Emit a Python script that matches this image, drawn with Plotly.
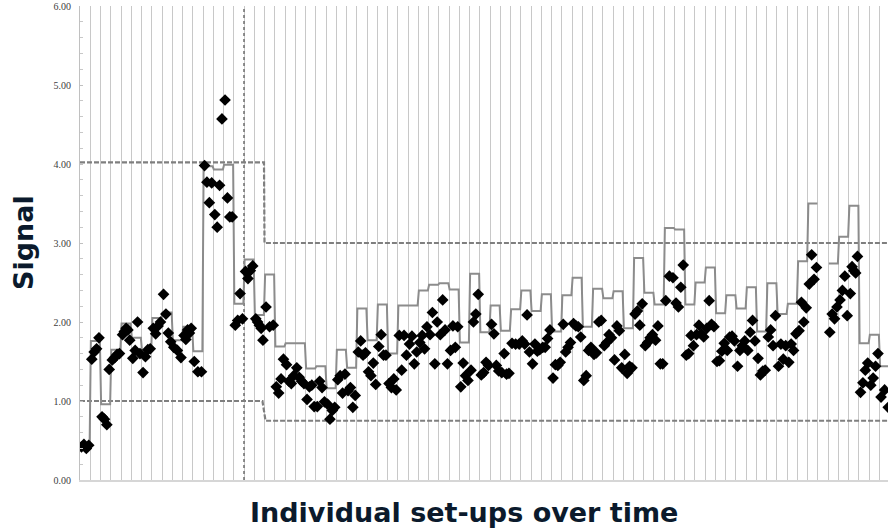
import plotly.graph_objects as go

# ---- data ----
# control level (step line) per set-up; None = no level drawn
setup_level = [
    0.45, 1.76, 0.96, 1.65, 1.98, 1.80, 1.62, 2.05, 2.12, 1.77,
    1.94, 1.63, 3.97, 3.93, 3.99, 2.23, 2.79, 2.09, 2.60, 1.69,
    1.73, 1.73, 1.41, 1.44, 1.16, 1.65, 1.42, 2.17, 1.77, 2.22,
    1.60, 2.21, 2.21, 2.40, 2.47, 2.49, 2.41, 1.74, 2.61, 1.87,
    2.21, 1.89, 2.16, 2.40, 2.14, 2.35, 1.88, 2.34, 2.56, 1.94,
    2.42, 2.30, 2.39, 1.92, 2.81, 2.37, 2.22, 3.19, 3.17, 2.22,
    2.50, 2.69, 2.11, 2.34, 2.17, 2.44, 1.88, 2.49, 2.10, 2.23,
    2.77, 3.50, None, 2.74, 3.08, 3.47, 1.73, 1.84, 1.44,
]

# number of measured signals in each set-up
points_per_setup = [
    4, 4, 4, 4, 5, 4, 4, 4, 4, 3,
    5, 3, 4, 4, 4, 4, 4, 5, 3, 4,
    4, 4, 4, 4, 4, 4, 4, 4, 4, 4,
    4, 4, 4, 4, 4, 4, 4, 4, 4, 4,
    4, 4, 3, 4, 4, 4, 4, 4, 4, 4,
    4, 4, 4, 4, 4, 4, 4, 3, 4, 4,
    4, 4, 4, 4, 4, 4, 4, 4, 4, 4,
    4, 4, 0, 4, 4, 5, 4, 4, 3,
]

# measured signals, in set-up order
signal_values = [
    0.42, 0.45, 0.40, 0.44,
    1.53, 1.62, 1.66, 1.80,
    0.80, 0.77, 0.70, 1.40,
    1.52, 1.55, 1.59, 1.60,
    1.84, 1.88, 1.92, 1.90, 1.77,
    1.54, 1.64, 2.00, 1.60,
    1.36, 1.56, 1.65, 1.66,
    1.92, 1.85, 1.95, 2.00,
    2.35, 2.10, 1.86, 1.75,
    1.68, 1.64, 1.55,
    1.83, 1.78, 1.90, 1.86, 1.92,
    1.50, 1.37, 1.37,
    3.98, 3.77, 3.51, 3.76,
    3.36, 3.20, 3.73, 4.57,
    4.81, 3.57, 3.33, 3.33,
    1.96, 2.02, 2.36, 2.04,
    2.64, 2.55, 2.65, 2.71,
    2.04, 2.00, 1.96, 1.92, 1.77,
    2.19, 1.94, 1.96,
    1.18, 1.10, 1.28, 1.53,
    1.46, 1.25, 1.22, 1.32,
    1.42, 1.30, 1.25, 1.22,
    1.02, 1.18, 1.20, 0.93,
    0.93, 1.25, 1.17, 0.99,
    0.96, 0.77, 0.88, 0.92,
    1.27, 1.32, 1.10, 1.34,
    1.13, 1.17, 0.92, 1.07,
    1.62, 1.76, 1.58, 1.61,
    1.37, 1.32, 1.48, 1.21,
    1.69, 1.84, 1.58, 1.58,
    1.22, 1.17, 1.28, 1.14,
    1.83, 1.39, 1.83, 1.58,
    1.72, 1.82, 1.47, 1.62,
    1.74, 1.83, 1.66, 1.94,
    1.84, 2.12, 1.47, 2.00,
    1.84, 2.28, 1.90, 1.47,
    1.64, 1.95, 1.68, 1.94,
    1.18, 1.48, 1.32, 1.26,
    1.39, 2.00, 2.10, 2.35,
    1.33, 1.36, 1.49, 1.45,
    1.97, 1.85, 1.45, 1.38,
    1.36, 1.60, 1.34, 1.35,
    1.73, 1.72, 1.72,
    1.76, 1.72, 2.09, 1.62,
    1.47, 1.72, 1.63, 1.65,
    1.68, 1.68, 1.79, 1.90,
    1.29, 1.46, 1.45, 1.49,
    1.97, 1.62, 1.68, 1.74,
    1.98, 1.95, 1.94, 1.81,
    1.26, 1.32, 1.64, 1.68,
    1.59, 1.61, 2.00, 2.02,
    1.70, 1.74, 1.84, 1.80,
    1.52, 1.95, 1.89, 1.42,
    1.59, 1.35, 1.44, 1.42,
    2.10, 2.14, 1.96, 2.23,
    1.70, 1.74, 1.80, 1.84,
    1.77, 1.95, 1.47, 1.47,
    2.27, 2.58, 2.56,
    2.24, 2.19, 2.44, 2.72,
    1.58, 1.60, 1.83, 1.70,
    1.84, 1.96, 1.85, 1.81,
    1.92, 2.27, 1.97, 1.94,
    1.50, 1.51, 1.63, 1.73,
    1.64, 1.81, 1.82, 1.76,
    1.44, 1.64, 1.70, 1.76,
    1.64, 1.87, 2.02, 1.76,
    1.54, 1.33, 1.38, 1.39,
    1.81, 1.90, 1.70, 2.08,
    1.44, 1.72, 1.53, 1.70,
    1.49, 1.72, 1.64, 1.85,
    1.89, 2.25, 2.00, 2.18,
    2.48, 2.85, 2.54, 2.69,
    1.87, 2.10, 2.04, 2.19,
    2.28, 2.40, 2.58, 2.08,
    2.36, 2.70, 2.65, 2.62, 2.83,
    1.11, 1.23, 1.39, 1.48,
    1.20, 1.29, 1.44, 1.60,
    1.05, 1.14, 0.92,
]

# specification limits (set-up position, signal)
upper_limit_x = [0, 17.95, 18.0, 78.83]
upper_limit_y = [4.02, 4.02, 3.00, 3.00]
lower_limit_x = [0, 17.8, 18.1, 78.83]
lower_limit_y = [1.00, 1.00, 0.75, 0.75]
marker_setup = 16          # dotted vertical marker
y_ticks = [0, 1, 2, 3, 4, 5, 6]

# ---- build plotted coordinates ----
pt_x, pt_y = [], []
idx = 0
for k, n in enumerate(points_per_setup):
    for i in range(n):
        frac = 0.5 if n == 1 else 0.15 + i * 0.70 / (n - 1)
        pt_x.append(k + frac)
        pt_y.append(signal_values[idx])
        idx += 1

step_x, step_y = [], []
for k, lvl in enumerate(setup_level):
    if lvl is None:
        step_x.append(None)
        step_y.append(None)
        continue
    step_x += [k + 0.06, k + 0.94]
    step_y += [lvl, lvl]

fig = go.Figure()

fig.add_trace(go.Scatter(
    x=[marker_setup, marker_setup], y=[0, 6], mode="lines",
    line=dict(color="#6e6e6e", width=1.5, dash="dot"),
    hoverinfo="skip", showlegend=False))

fig.add_trace(go.Scatter(
    x=upper_limit_x, y=upper_limit_y, mode="lines",
    line=dict(color="#7f7f7f", width=2.2, dash="5px,2px"),
    showlegend=False))
fig.add_trace(go.Scatter(
    x=lower_limit_x, y=lower_limit_y, mode="lines",
    line=dict(color="#7f7f7f", width=2.2, dash="5px,2px"),
    showlegend=False))

fig.add_trace(go.Scatter(
    x=step_x, y=step_y, mode="lines", connectgaps=False,
    line=dict(color="#8c8c8c", width=2),
    showlegend=False))

fig.add_trace(go.Scatter(
    x=pt_x, y=pt_y, mode="markers",
    marker=dict(symbol="diamond", size=9, color="black",
                line=dict(width=0)),
    showlegend=False))

fig.update_layout(
    width=888, height=530,
    margin=dict(l=80, r=0, t=6, b=50, autoexpand=False),
    plot_bgcolor="white", paper_bgcolor="white",
    showlegend=False,
    xaxis=dict(
        range=[0, 78.83], tick0=0, dtick=1, automargin=False,
        showgrid=True, gridcolor="#c8c8c8", gridwidth=1,
        showticklabels=False, ticks="",
        showline=True, linecolor="#d6d6d6", linewidth=2,
        zeroline=False,
    ),
    yaxis=dict(
        range=[0, 6], tickvals=y_ticks, tickformat=".2f", automargin=False,
        showgrid=False, zeroline=False,
        showline=True, linecolor="#c0c0c0", linewidth=1,
        ticks="inside", ticklen=3, tickcolor="#c0c0c0",
        ticklabelstandoff=6,
        tickfont=dict(family="Liberation Sans Narrow", size=10, color="#404040"),
        minor=dict(dtick=0.2, ticks="inside", ticklen=3, tickcolor="#c8c8c8",
                   showgrid=False),
    ),
    annotations=[
        dict(text="<b>Individual set-ups over time</b>", xref="paper", yref="paper",
             x=(464 - 80) / 808, y=-32 / 474, xanchor="center", yanchor="middle",
             showarrow=False,
             font=dict(family="DejaVu Sans", size=27, color="#0b1a2c")),
        dict(text="<b>Signal</b>", xref="paper", yref="paper",
             x=(23 - 80) / 808, y=0.5, xanchor="center",
             yanchor="middle", textangle=-90, showarrow=False,
             font=dict(family="DejaVu Sans", size=27, color="#0b1a2c")),
    ],
)

fig.write_html("out.html", config={"displayModeBar": False},
               post_script="document.body.style.margin='0';document.body.style.overflow='hidden';")
